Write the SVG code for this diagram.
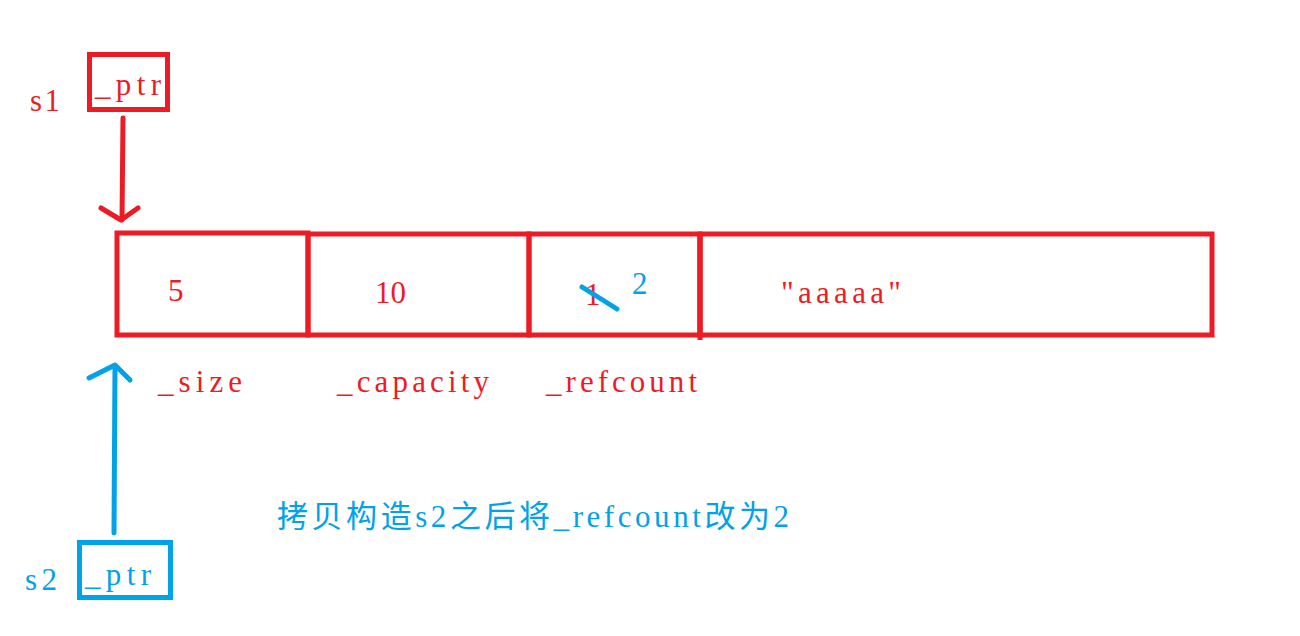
<svg xmlns="http://www.w3.org/2000/svg" width="1300" height="636" viewBox="0 0 1300 636">
<style>
  .r{fill:none;stroke:#ED1C24;stroke-width:5}
  .b{fill:none;stroke:#00A2E8;stroke-width:5}
  .tr{fill:#ED1C24;font-family:"Liberation Serif","Noto Sans CJK SC",serif;font-size:31px}
  .tb{fill:#00A2E8;font-family:"Liberation Serif","Noto Sans CJK SC",serif;font-size:31px}
  .ln{stroke-linecap:round;stroke-linejoin:round}
</style>
<rect width="1300" height="636" fill="#fff"/>
<g id="s1">
  <text class="tr" x="30" y="111" textLength="30" lengthAdjust="spacing">s1</text>
  <rect class="r" x="89.5" y="54.5" width="78" height="55"/>
  <text class="tr" x="95" y="95" textLength="66" lengthAdjust="spacing">_ptr</text>
</g>
<g id="cell_size">
  <rect class="r" x="117" y="233" width="191" height="102"/>
  <text class="tr" x="168" y="301">5</text>
  <text class="tr" x="158" y="392" textLength="84" lengthAdjust="spacing">_size</text>
</g>
<g id="cell_capacity">
  <rect class="r" x="308" y="234" width="221" height="101"/>
  <text class="tr" x="375" y="303" textLength="31" lengthAdjust="spacing">10</text>
  <text class="tr" x="337" y="392" textLength="152" lengthAdjust="spacing">_capacity</text>
</g>
<g id="cell_refcount">
  <rect class="r" x="529" y="234" width="171" height="101"/>
  <text class="tr" x="585" y="305">1</text>
  <line class="b ln" x1="582" y1="287" x2="617" y2="309"/>
  <text class="tb" x="632" y="294">2</text>
  <text class="tr" x="546" y="392" textLength="151" lengthAdjust="spacing">_refcount</text>
</g>
<g id="cell_data">
  <rect class="r" x="700" y="234" width="512" height="101"/>
  <line class="r" x1="700" y1="232" x2="700" y2="340"/>
  <text class="tr" x="781" y="303" textLength="120" lengthAdjust="spacing">"aaaaa"</text>
</g>
<g id="s2">
  <text class="tb" x="25" y="590" textLength="32" lengthAdjust="spacing">s2</text>
  <rect class="b" x="79.5" y="542.5" width="91" height="55"/>
  <text class="tb" x="85" y="585" textLength="66" lengthAdjust="spacing">_ptr</text>
</g>
<g id="note">
  <text class="tb" x="277" y="527" style="font-size:31px" textLength="512" lengthAdjust="spacing">拷贝构造s2之后将_refcount改为2</text>
</g>
<g id="connectors">
  <line class="r ln" x1="123" y1="118" x2="122" y2="220"/>
  <polyline class="r ln" points="101,208 121,220 138,208"/>
  <line class="b ln" x1="114" y1="533" x2="115" y2="366"/>
  <polyline class="b ln" points="89,378 115,365 130,380"/>
</g>
</svg>
